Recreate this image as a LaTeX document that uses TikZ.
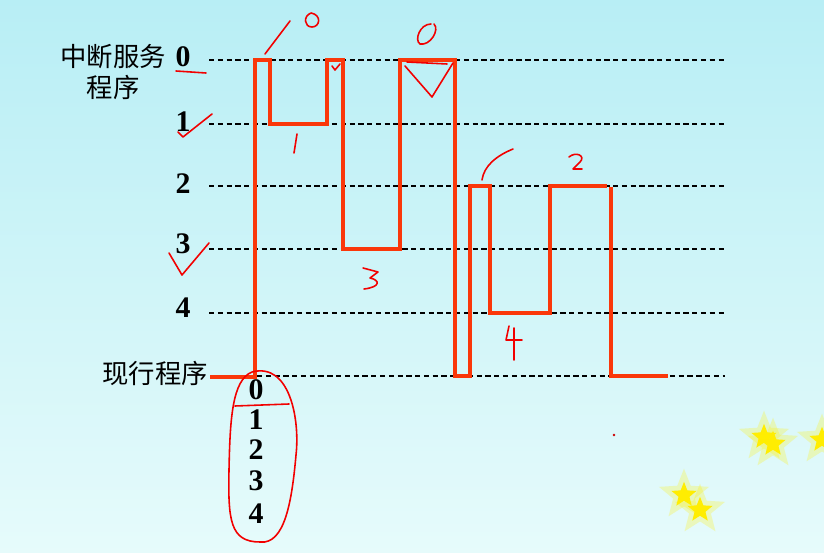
\documentclass[tikz,border=0pt]{standalone}
\usepackage{fontspec}
\newfontfamily\cjk{Noto Sans CJK SC}
\newfontfamily\digits{Liberation Serif}
\usetikzlibrary{positioning,shapes.geometric}

\definecolor{trace}{RGB}{250,55,10}
\definecolor{bgtop}{RGB}{184,238,245}
\definecolor{bgbot}{RGB}{230,251,251}

\tikzset{
    level/.style={font=\fontsize{17}{19}\selectfont\digits\bfseries, inner sep=1pt},
    zh/.style={font=\fontsize{15}{18}\selectfont\cjk, inner sep=1pt, align=center},
    grid/.style={densely dashed, line width=0.6pt, black},
    run/.style={trace, line width=2.4pt, line join=miter},
    hand/.style={red!95!black, line width=0.9pt, line cap=round, line join=round},
    glow/.style={star, star points=5, star point ratio=2.3, fill=yellow, fill opacity=0.25, inner sep=0pt, minimum size=30pt},
    spark/.style={star, star points=5, star point ratio=2.3, fill=yellow!95!orange, inner sep=0pt, minimum size=15pt}
}

\begin{document}
\begin{tikzpicture}[x=0.02cm, y=-0.02cm]

    % background
    \shade[top color=bgtop, bottom color=bgbot] (0,0) rectangle (824,553);
    \useasboundingbox (0,0) rectangle (824,553);

    % level labels
    \node[level] (n0) at (183,57) {0};
    \node[zh, left=3pt of n0] (isr) {中断服务}; % 中断服务 before 0
    \node[zh, below=1pt of isr.south, anchor=north] (isr2) {程序};
    \node[level] (n1) at (183,122) {1};
    \node[level] (n2) at (183,184) {2};
    \node[level] (n3) at (183,244) {3};
    \node[level] (n4) at (183,308) {4};
    \node[zh] (main) at (155,373) {现行程序};

    % list under the main program
    \node[level] (m0) at (256,390) {0};
    \node[level] (m1) at (256,420) {1};
    \node[level] (m2) at (256,450) {2};
    \node[level] (m3) at (256,481) {3};
    \node[level] (m4) at (256,514) {4};

    % dashed levels
    \foreach \y in {60,124,186,249,313} {
        \draw[grid] (209,\y) -- (725,\y);
    }
    \draw[grid] (257,376) -- (725,376);

    % trace of the running levels
    \draw[run] (210,377) -- (255,377) -- (255,60) -- (270,60) -- (270,124) -- (327,124)
        -- (327,60) -- (343,60) -- (343,249) -- (400,249) -- (400,60) -- (455,60)
        -- (455,376) -- (470,376) -- (470,186) -- (490,186) -- (490,313) -- (550,313)
        -- (550,186) -- (607,186);
    \draw[run] (611,187) -- (611,376) -- (668,376);

    % handwritten marks
    \draw[hand] (265,54) -- (290,21); % stroke above first 0
    \draw[hand] (311,13) .. controls (303,16) and (304,27) .. (312,27) .. controls (320,27) and (322,15) .. (311,13);
    \draw[hand] (176,71) -- (206,73); % underline 0
    \draw[hand] (178,132) -- (183,137) -- (212,114); % tick 1
    \draw[hand] (297,134) -- (294,153); % 1
    \draw[hand] (332,66) -- (335,70) -- (340,64);
    \draw[hand] (431,24) .. controls (420,24) and (414,40) .. (420,44) .. controls (430,46) and (440,30) .. (434,24);
    \draw[hand] (407,62) -- (447,64);
    \draw[hand] (405,66) -- (432,97) -- (453,63); % triangle
    \draw[hand] (482,180) .. controls (484,166) and (496,156) .. (513,149);
    \draw[hand] (569,157) .. controls (576,151) and (586,156) .. (580,162) -- (573,169) -- (582,169); % 2
    \draw[hand] (169,253) -- (182,275) -- (209,243); % tick 3
    \draw[hand] (363,268) -- (378,272) -- (370,278) .. controls (380,280) and (381,287) .. (364,289); % 3
    \draw[hand] (509,326) -- (506,340) -- (522,340);
    \draw[hand] (514,328) -- (514,360); % 4
    \draw[hand] (235,406) -- (289,404);
    \draw[hand] (252,372) .. controls (290,362) and (300,420) .. (296,455)
        .. controls (292,500) and (285,545) .. (260,542)
        .. controls (230,542) and (228,520) .. (229,470)
        .. controls (230,420) and (232,380) .. (252,372);
    \fill[red!80!black] (614,435) circle (1.4);

    % stars
    \foreach \x/\y in {764/437, 773/444, 684/495, 700/510, 822/440} {
        \node[glow] at (\x,\y) {};
        \node[spark] at (\x,\y) {};
    }

\end{tikzpicture}
\end{document}
